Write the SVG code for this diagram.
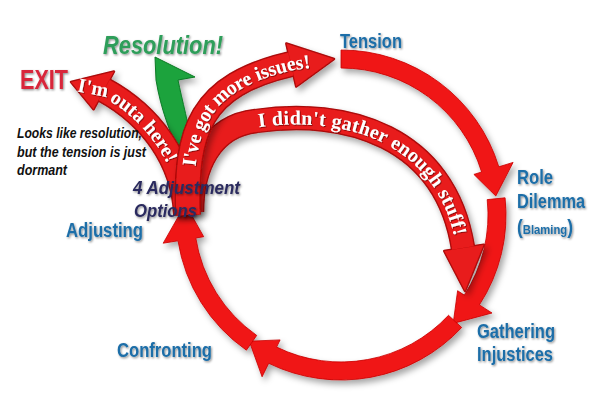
<svg xmlns="http://www.w3.org/2000/svg" width="600" height="407" viewBox="0 0 600 407">
<defs>
<style>
.lbl{font-family:"Liberation Sans",Arial,sans-serif;font-weight:bold;fill:#1d6ea8;font-size:20px;filter:url(#ts)}
.note{font-family:"Liberation Sans",Arial,sans-serif;font-weight:bold;font-style:italic;fill:#111;font-size:14px}
.ring{fill:#f01616;stroke:#c80000;stroke-width:0.8}
.bandO{fill:none;stroke:#a80808;stroke-width:26}
.band{fill:none;stroke:#e81a1a}
.headO{fill:#a80808;stroke:#a80808;stroke-width:2.5;stroke-linejoin:round}
.head{fill:#e81a1a}
.atxt{font-family:"Liberation Serif","Times New Roman",serif;font-weight:bold;fill:#fff;font-size:20px;filter:url(#ts2)}
</style>
<filter id="sh" x="-20%" y="-20%" width="140%" height="140%"><feDropShadow dx="3" dy="4" stdDeviation="3" flood-color="#000" flood-opacity="0.35"/></filter>
<filter id="ts" x="-10%" y="-30%" width="120%" height="160%"><feDropShadow dx="1" dy="1.2" stdDeviation="0.8" flood-color="#000" flood-opacity="0.45"/></filter>
<filter id="ts2" x="-10%" y="-30%" width="120%" height="160%"><feDropShadow dx="0.8" dy="0.8" stdDeviation="0.6" flood-color="#400" flood-opacity="0.7"/></filter>
<path id="p-out" d="M74,84 L104,90 C150,115 184,160 186,215"/>
<path id="p-iss" d="M188,215 C185,130 200,85 291,64 L336,58"/>
<path id="p-gat" d="M256,121 C345,108 445,135 463,248 L466,288"/>
</defs>
<rect width="600" height="407" fill="#fff"/>

<g id="connectors">
  <g id="ring" filter="url(#sh)">
    <path class="ring" d="M341,50 A165,165 0 0 1 498.8,166.8 L513.1,162.4 L495.8,196 L473.9,174.4 L481.6,172 A147,147 0 0 0 341,68 Z"/>
    <path class="ring" d="M505.1,197.8 A165,165 0 0 1 479.4,304.9 L492,313 L453.2,323.4 L457.6,290.7 L464.3,295.1 A147,147 0 0 0 487.2,199.6 Z"/>
    <path class="ring" d="M461.7,327.5 A165,165 0 0 1 268.7,363.3 L262.1,376.8 L249.3,341.2 L280.1,339.9 L276.6,347.1 A147,147 0 0 0 448.5,315.3 Z"/>
    <path class="ring" d="M246.4,350.2 A165,165 0 0 1 178,240.8 L163.2,243.2 L185.4,204.1 L203.7,236.7 L195.8,238 A147,147 0 0 0 256.7,335.4 Z"/>
  </g>
  <g id="arrow-gather" filter="url(#sh)">
    <path class="bandO" style="stroke-width:24.5" d="M192,212 C192,168 210,126 256,121 C345,108 445,135 463,248"/>
    <polygon class="headO" points="483.7,244.7 465,291 444.2,251"/>
    <path class="band" style="stroke-width:22" d="M192,212 C192,168 210,126 256,121 C345,108 445,135 463,248"/>
    <polygon class="head" points="483.7,244.7 465,291 444.2,251"/>
    <text class="atxt" dy="6.5"><textPath href="#p-gat" startOffset="2" textLength="258">I didn't gather enough stuff!</textPath></text>
  </g>
  <g id="arrow-resolution" filter="url(#sh)">
    <path d="M155,57 L195,77 L178,80 C182,100 189,125 193,152 L179,152 C170,132 161,110 156,80 Z" fill="#1aa33c" stroke="#0c7a26" stroke-width="1"/>
  </g>
  <g id="arrow-exit" filter="url(#sh)">
    <path class="bandO" d="M186,215 C184,160 150,115 104,90"/>
    <polygon class="headO" points="114,71.5 71,82 93.5,109.3"/>
    <path class="band" style="stroke-width:23.5" d="M186,215 C184,160 150,115 104,90"/>
    <polygon class="head" points="114,71.5 71,82 93.5,109.3"/>
    <text class="atxt" dy="6.5"><textPath href="#p-out" startOffset="4" textLength="127">I'm outa here!</textPath></text>
  </g>
  <g id="arrow-issues" filter="url(#sh)">
    <path class="bandO" d="M188,215 C185,130 200,85 291,64"/>
    <polygon class="headO" points="286.3,43.5 334,59 296.2,86.4"/>
    <path class="band" style="stroke-width:23.5" d="M188,215 C185,130 200,85 291,64"/>
    <polygon class="head" points="286.3,43.5 334,59 296.2,86.4"/>
    <text class="atxt" dy="6.5"><textPath href="#p-iss" startOffset="49" textLength="176">I've got more issues!</textPath></text>
  </g>
</g>

<g id="node-tension"><text class="lbl" x="340" y="48" textLength="62" lengthAdjust="spacingAndGlyphs">Tension</text></g>
<g id="node-role">
  <text class="lbl" x="517" y="184" textLength="36" lengthAdjust="spacingAndGlyphs">Role</text>
  <text class="lbl" x="517" y="208" textLength="68" lengthAdjust="spacingAndGlyphs">Dilemma</text>
  <text class="lbl" x="517" y="234" textLength="56" lengthAdjust="spacingAndGlyphs">(<tspan style="font-size:13px">Blaming</tspan>)</text>
</g>
<g id="node-gathering">
  <text class="lbl" x="477" y="338" textLength="78" lengthAdjust="spacingAndGlyphs">Gathering</text>
  <text class="lbl" x="477" y="361" textLength="76" lengthAdjust="spacingAndGlyphs">Injustices</text>
</g>
<g id="node-confronting"><text class="lbl" x="117" y="357" textLength="95" lengthAdjust="spacingAndGlyphs">Confronting</text></g>
<g id="node-adjusting"><text class="lbl" x="66" y="237" textLength="77" lengthAdjust="spacingAndGlyphs">Adjusting</text></g>
<g id="node-options">
  <text class="lbl" style="fill:#2b2b5e;font-style:italic;font-size:19px" x="133" y="194" textLength="107" lengthAdjust="spacingAndGlyphs">4 Adjustment</text>
  <text class="lbl" style="fill:#2b2b5e;font-style:italic;font-size:19px" x="134" y="217" textLength="63" lengthAdjust="spacingAndGlyphs">Options</text>
</g>
<g id="node-exit"><text class="lbl" style="fill:#d8283a;font-size:27px" x="20" y="89" textLength="48" lengthAdjust="spacingAndGlyphs">EXIT</text></g>
<g id="node-resolution"><text class="lbl" style="fill:#2e9e5a;font-style:italic;font-size:26px" x="103" y="54" textLength="120" lengthAdjust="spacingAndGlyphs">Resolution!</text></g>
<g id="node-note">
  <text class="note" x="17" y="138" textLength="125" lengthAdjust="spacingAndGlyphs">Looks like resolution,</text>
  <text class="note" x="17" y="157" textLength="129" lengthAdjust="spacingAndGlyphs">but the tension is just</text>
  <text class="note" x="17" y="175" textLength="50" lengthAdjust="spacingAndGlyphs">dormant</text>
</g>
</svg>
